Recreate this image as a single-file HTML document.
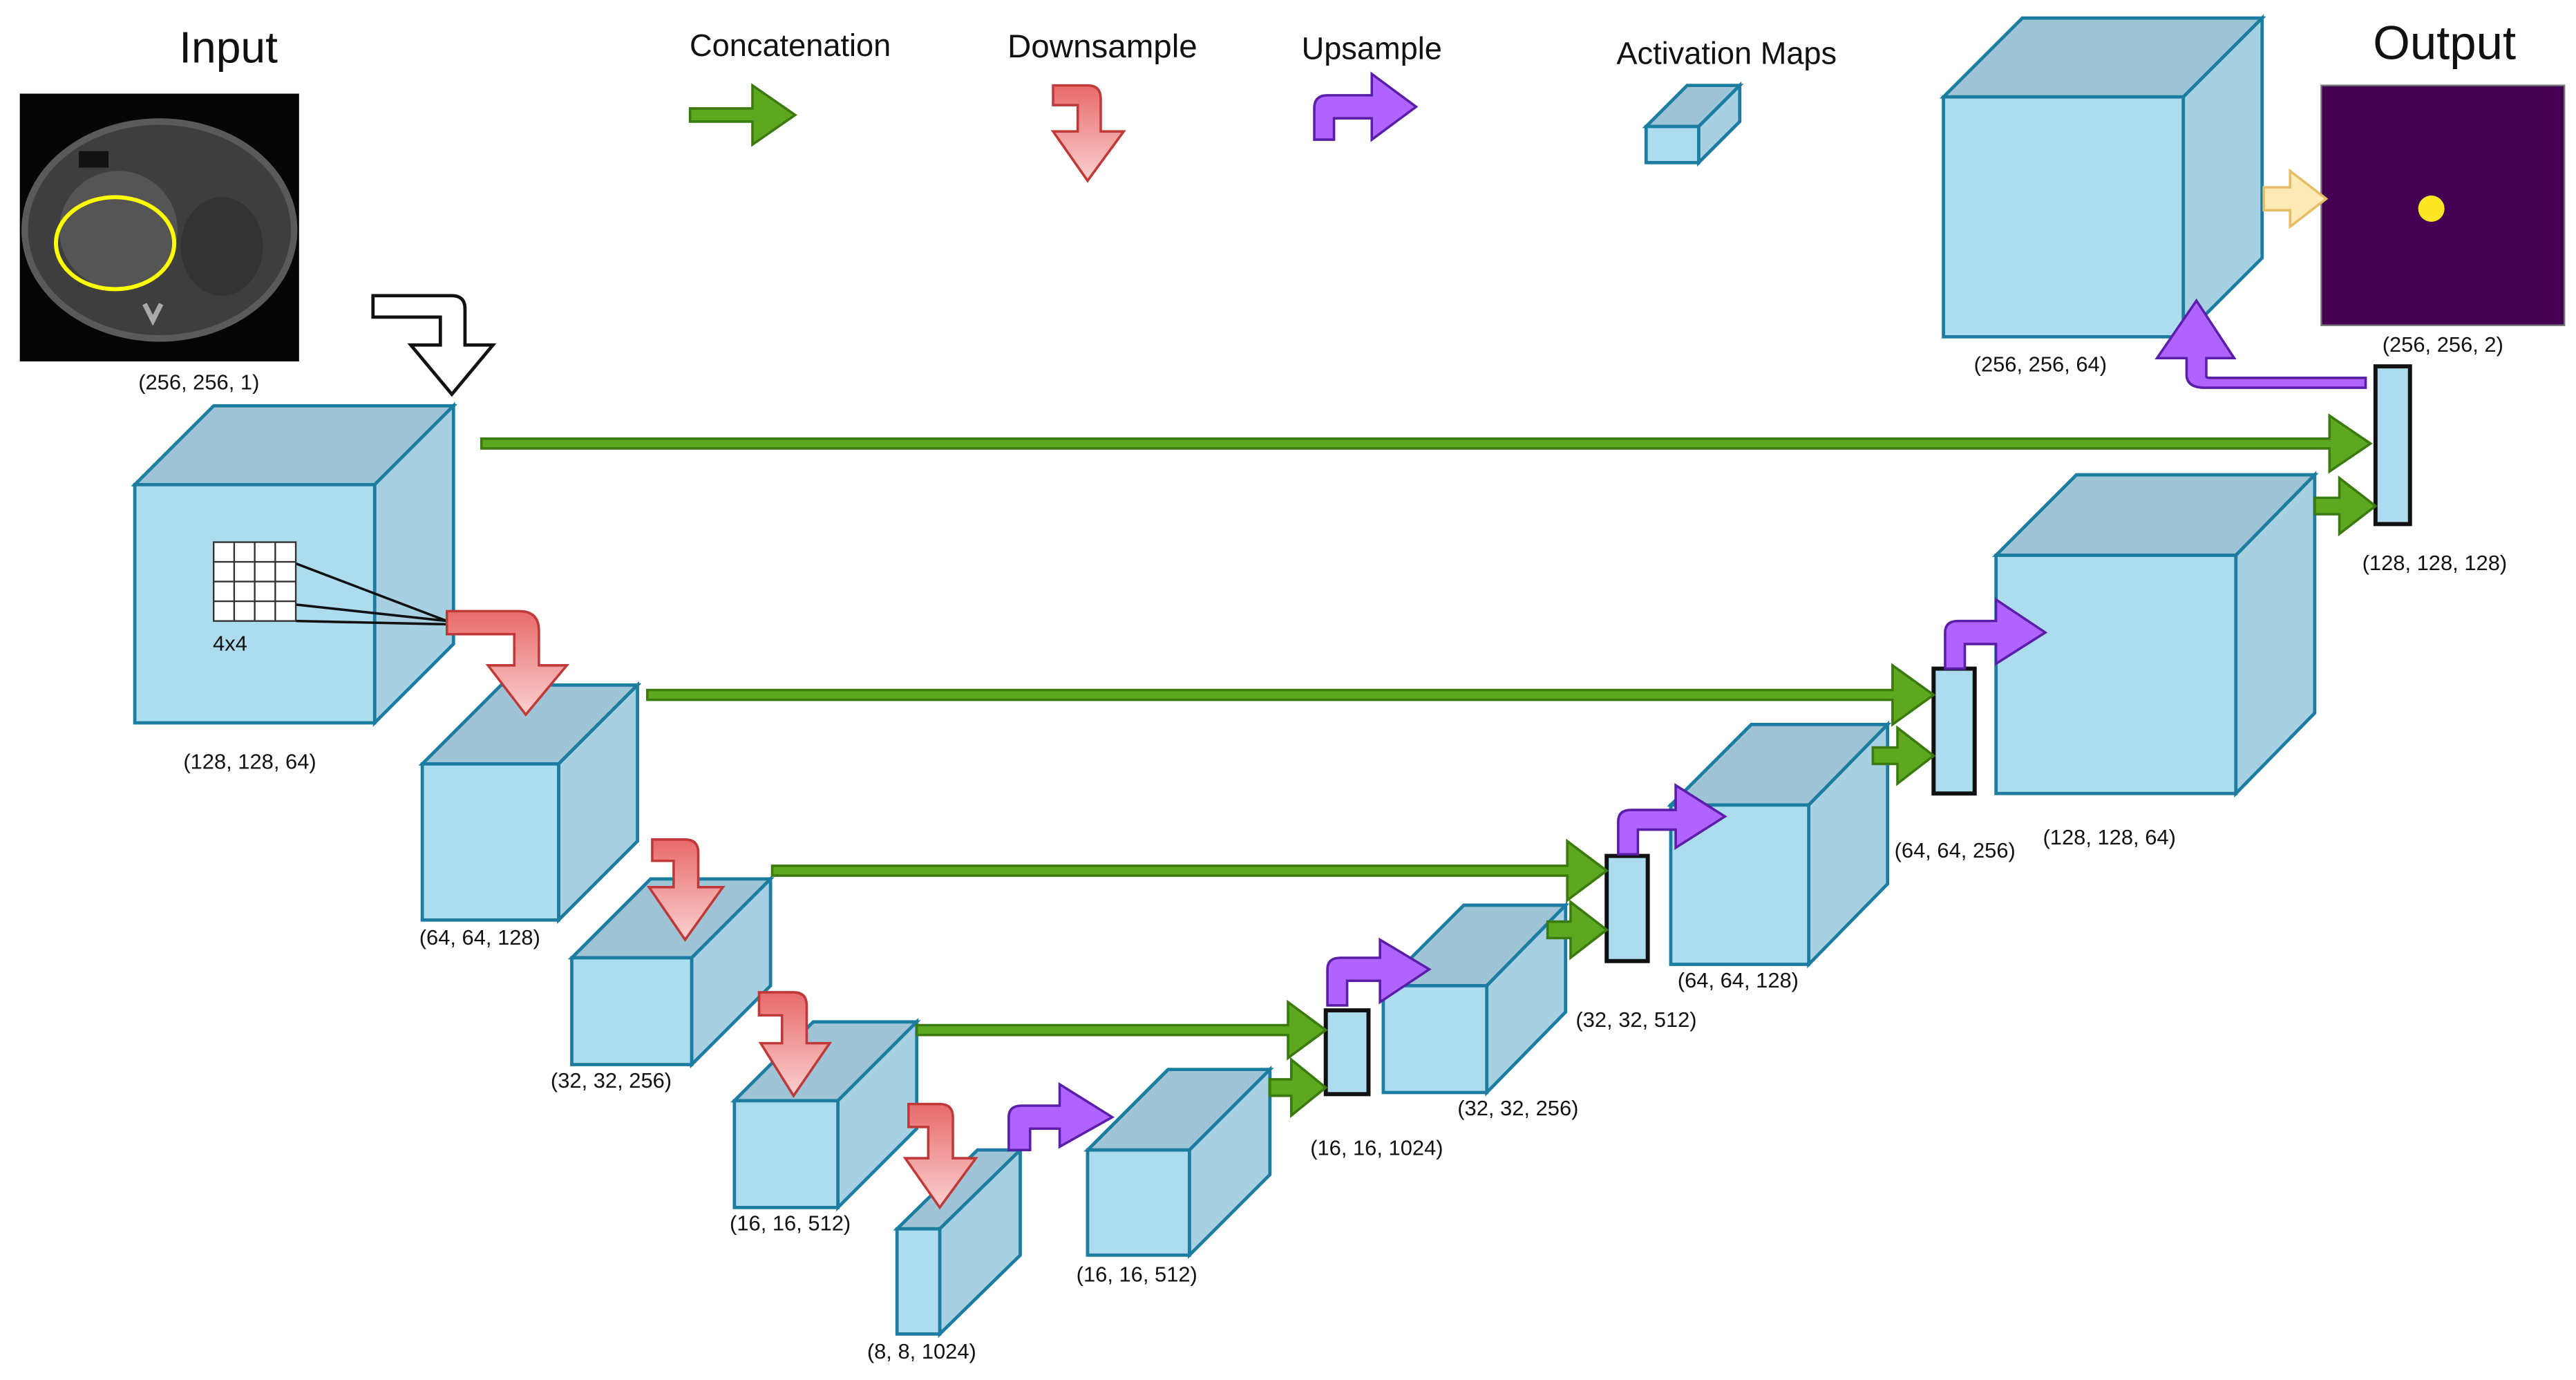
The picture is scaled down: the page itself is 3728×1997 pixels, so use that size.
<!DOCTYPE html>
<html><head><meta charset="utf-8"><style>
html,body{margin:0;padding:0;background:#fff;}
svg{display:block;}
text{font-family:"Liberation Sans",sans-serif;fill:#111;}
.f{fill:#aedcef;stroke:#1c7da0;stroke-width:2;}
.t{fill:#9ec4d6;stroke:#1c7da0;stroke-width:2;}
.s{fill:#a7d0e2;stroke:#1c7da0;stroke-width:2;}
.bar{fill:#aedcef;stroke:#111;stroke-width:2.5;}
.lbl{font-size:13px;text-anchor:middle;}
</style></head><body>
<svg width="3728" height="1997" viewBox="0 0 1568 840" xmlns="http://www.w3.org/2000/svg">
<defs>
<linearGradient id="rg" x1="0" y1="0" x2="0" y2="1"><stop offset="0" stop-color="#e86a6a"/><stop offset="1" stop-color="#fbd0d0"/></linearGradient>
</defs>
<text x="139" y="38" font-size="27" text-anchor="middle">Input</text>
<text x="1488" y="36" font-size="29" text-anchor="middle">Output</text>
<text x="481" y="34" font-size="19" text-anchor="middle">Concatenation</text>
<text x="671" y="35" font-size="20" text-anchor="middle">Downsample</text>
<text x="835" y="36" font-size="19" text-anchor="middle">Upsample</text>
<text x="1051" y="39" font-size="19" text-anchor="middle">Activation Maps</text>

<rect x="12" y="57" width="170" height="163" fill="#050505"/>
<ellipse cx="97" cy="140" rx="84" ry="68" fill="#5a5a5a"/>
<ellipse cx="97" cy="140" rx="80" ry="64" fill="#3e3e3e"/>
<ellipse cx="72" cy="140" rx="36" ry="36" fill="#555"/>
<ellipse cx="135" cy="150" rx="25" ry="30" fill="#333"/>
<rect x="48" y="92" width="18" height="10" fill="#111"/>
<path d="M88 185L93 195L98 185" stroke="#aaa" stroke-width="3" fill="none"/>
<ellipse cx="70" cy="148" rx="36" ry="28" fill="none" stroke="#ffff00" stroke-width="2.5"/>
<text x="121" y="237" class="lbl">(256, 256, 1)</text>

<rect x="1413" y="52" width="148" height="146" fill="#440154" stroke="#777" stroke-width="1"/>
<circle cx="1480" cy="127" r="8" fill="#fde725"/>
<text x="1487" y="214" class="lbl">(256, 256, 2)</text>

<g>
<polygon class="t" points="1002,77 1027,52 1059,52 1034,77"/><polygon class="s" points="1034,77 1059,52 1059,74 1034,99"/><rect class="f" x="1002" y="77" width="32" height="22"/>
<polygon class="t" points="82,295 130,247 276,247 228,295"/><polygon class="s" points="228,295 276,247 276,392 228,440"/><rect class="f" x="82" y="295" width="146" height="145"/>
<text x="152" y="468" class="lbl">(128, 128, 64)</text>
<polygon class="t" points="257,465 305,417 388,417 340,465"/><polygon class="s" points="340,465 388,417 388,512 340,560"/><rect class="f" x="257" y="465" width="83" height="95"/>
<text x="292" y="575" class="lbl">(64, 64, 128)</text>
<polygon class="t" points="348,583 396,535 469,535 421,583"/><polygon class="s" points="421,583 469,535 469,600 421,648"/><rect class="f" x="348" y="583" width="73" height="65"/>
<text x="372" y="662" class="lbl">(32, 32, 256)</text>
<polygon class="t" points="447,670 495,622 558,622 510,670"/><polygon class="s" points="510,670 558,622 558,687 510,735"/><rect class="f" x="447" y="670" width="63" height="65"/>
<text x="481" y="749" class="lbl">(16, 16, 512)</text>
<polygon class="t" points="546,748 595,700 621,700 572,748"/><polygon class="s" points="572,748 621,700 621,764 572,812"/><rect class="f" x="546" y="748" width="26" height="64"/>
<text x="561" y="827" class="lbl">(8, 8, 1024)</text>
<polygon class="t" points="662,700 711,651 773,651 724,700"/><polygon class="s" points="724,700 773,651 773,715 724,764"/><rect class="f" x="662" y="700" width="62" height="64"/>
<text x="692" y="780" class="lbl">(16, 16, 512)</text>
<polygon class="t" points="842,600 891,551 953,551 905,600"/><polygon class="s" points="905,600 953,551 953,616 905,665"/><rect class="f" x="842" y="600" width="63" height="65"/>
<text x="924" y="679" class="lbl">(32, 32, 256)</text>
<polygon class="t" points="1017,490 1066,441 1149,441 1101,490"/><polygon class="s" points="1101,490 1149,441 1149,538 1101,587"/><rect class="f" x="1017" y="490" width="84" height="97"/>
<text x="1058" y="601" class="lbl">(64, 64, 128)</text>
<polygon class="t" points="1215,338 1264,289 1409,289 1361,338"/><polygon class="s" points="1361,338 1409,289 1409,434 1361,483"/><rect class="f" x="1215" y="338" width="146" height="145"/>
<text x="1284" y="514" class="lbl">(128, 128, 64)</text>
<polygon class="t" points="1183,59 1231,11 1377,11 1329,59"/><polygon class="s" points="1329,59 1377,11 1377,157 1329,205"/><rect class="f" x="1183" y="59" width="146" height="146"/>
<text x="1242" y="226" class="lbl">(256, 256, 64)</text>
</g>

<rect class="bar" x="807" y="615" width="26" height="51"/>
<text x="838" y="703" class="lbl">(16, 16, 1024)</text>
<rect class="bar" x="978" y="521" width="25" height="64"/>
<text x="996" y="625" class="lbl">(32, 32, 512)</text>
<rect class="bar" x="1177" y="407" width="25" height="76"/>
<text x="1190" y="522" class="lbl">(64, 64, 256)</text>
<rect class="bar" x="1446" y="223" width="21" height="96"/>
<text x="1482" y="347" class="lbl">(128, 128, 128)</text>

<g stroke="#111" stroke-width="1.5">
<line x1="180" y1="343" x2="272" y2="378"/><line x1="180" y1="368" x2="272" y2="378"/><line x1="180" y1="378" x2="272" y2="380"/>
</g>
<g stroke="#333" stroke-width="1" fill="#fff">
<rect x="130" y="330" width="50" height="48"/>
<path d="M142.5 330V378M155 330V378M167.5 330V378M130 342H180M130 354H180M130 366H180" fill="none"/>
</g>
<text x="140" y="396" font-size="13" text-anchor="middle">4x4</text>

<g fill="#5da81f" stroke="#3a7a0e" stroke-width="1.5">
<path d="M420 66H458V52L484 70L458 88V74H420Z"/>
<path d="M293 267H1418V253L1443 270L1418 287V273H293Z"/>
<path d="M394 420H1152V405L1177 423L1152 441V426H394Z"/>
<path d="M470 527H954V512L978 530L954 548V533H470Z"/>
<path d="M558 624H784V610L807 627L784 644V630H558Z"/>
<path d="M773 657H786V645L807 662L786 679V667H773Z"/>
<path d="M942 561H956V549L978 566L956 583V571H942Z"/>
<path d="M1140 455H1155V443L1177 460L1155 477V465H1140Z"/>
<path d="M1409 303H1424V291L1446 308L1424 325V313H1409Z"/>
</g>

<g fill="url(#rg)" stroke="#c03838" stroke-width="1.5">
<path d="M272 372H316Q328 372 328 384V405H345L320 435L297 405H313V386H272Z"/>
<path d="M641 52H662Q670 52 670 60V80H684L662 110L641 80H656V64H641Z"/>
<path d="M397 511H417Q425 511 425 519V540H440L417 572L395 540H410V524H397Z"/>
<path d="M462 604H483Q491 604 491 612V635H505L483 667L463 635H476V618H462Z"/>
<path d="M553 672H572Q580 672 580 680V705H594L572 735L551 705H565V686H553Z"/>
</g>

<g fill="#b063ff" stroke="#5a1ea8" stroke-width="1.5">
<path d="M800 85V66Q800 58 808 58H835V45L862 65L835 85V72H812V85Z"/>
<path d="M808 612V590Q808 583 816 583H840V572L870 590L840 610V597H820V612Z"/>
<path d="M614 700V680Q614 673 622 673H645V660L677 680L645 698V687H627V700Z"/>
<path d="M985 520V500Q985 493 993 493H1020V478L1050 497L1020 516V505H997V520Z"/>
<path d="M1184 407V385Q1184 378 1192 378H1215V365L1245 385L1215 404V392H1196V407Z"/>
<path d="M1440 236H1342Q1331 236 1331 228V218H1313L1337 183L1360 218H1343V229Q1343 230 1345 230H1440Z" />
</g>

<path d="M227 180H275Q283 180 283 188V210H300L275 240L250 210H268V193H227Z" fill="#fff" stroke="#111" stroke-width="2"/>
<path d="M1378 114H1394V104L1416 121L1394 138V128H1378Z" fill="#fdeab5" stroke="#e6be6a" stroke-width="1.5"/>
</svg>
</body></html>
